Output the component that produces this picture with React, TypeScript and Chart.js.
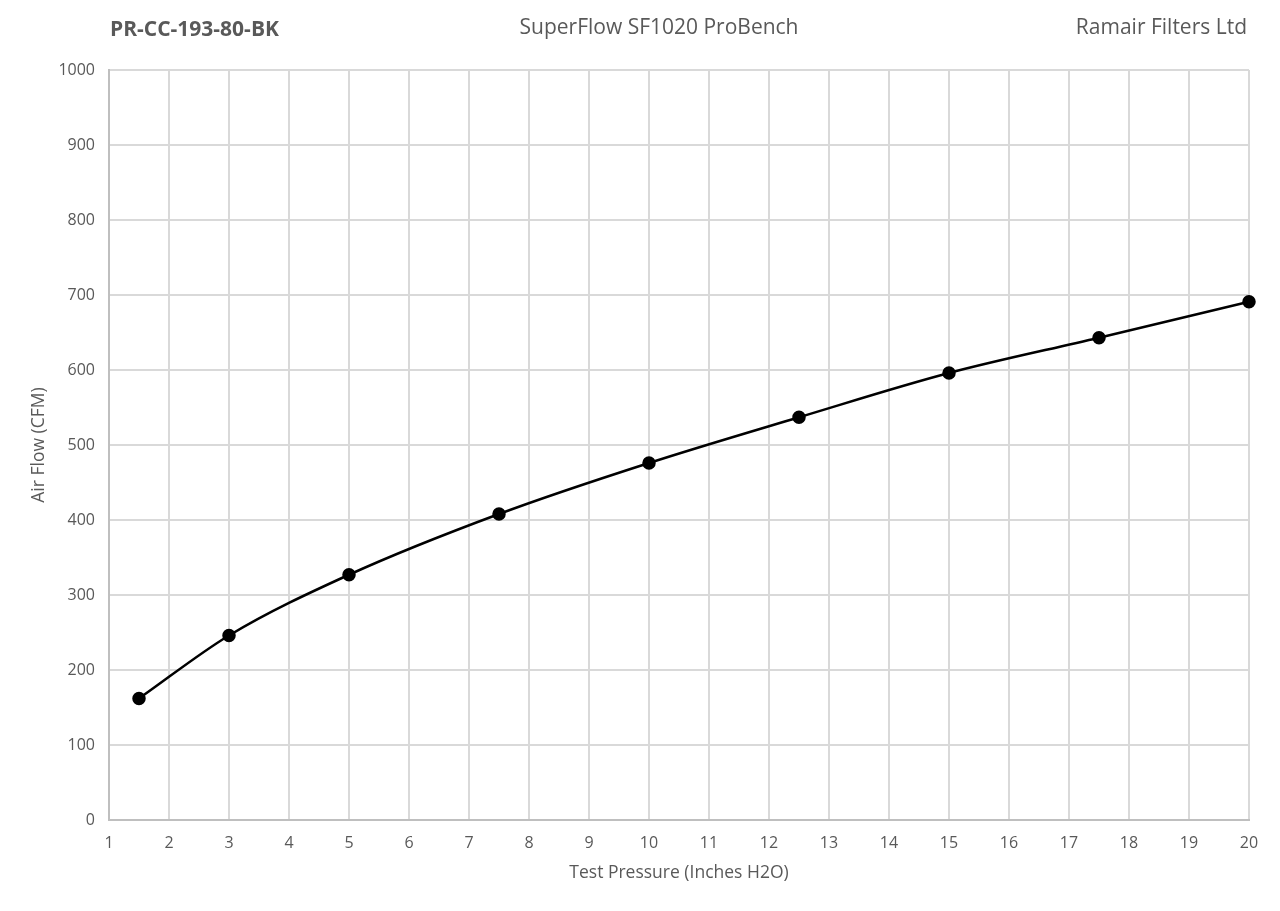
import React, { useEffect, useRef } from "react";
import { Chart, registerables } from "chart.js";

Chart.register(...registerables);

const pressures = [1.5, 3, 5, 7.5, 10, 12.5, 15, 17.5, 20];
const airFlow = [162, 246, 327, 408, 476, 537, 596, 643, 691];
const titleLeft = "PR-CC-193-80-BK";
const titleCenter = "SuperFlow SF1020 ProBench";
const titleRight = "Ramair Filters Ltd";
const xTitle = "Test Pressure (Inches H2O)";
const yTitle = "Air Flow (CFM)";

const FONT = "'Open Sans', 'Noto Sans', sans-serif";
const GREY = "#595959";

const headerPlugin = {
  id: "header",
  afterDraw(chart: any) {
    const ctx = chart.ctx;
    ctx.save();
    ctx.fillStyle = GREY;
    ctx.textBaseline = "middle";
    ctx.font = `bold 21px ${FONT}`;
    ctx.textAlign = "left";
    ctx.fillText(titleLeft, 110, 30);
    ctx.font = `21px ${FONT}`;
    ctx.textAlign = "center";
    ctx.fillText(titleCenter, 659, 28);
    ctx.textAlign = "right";
    ctx.fillText(titleRight, 1247, 28);
    ctx.restore();
  },
};

export default function App() {
  const ref = useRef<HTMLCanvasElement>(null);
  useEffect(() => {
    if (!ref.current) return;
    const chart = new Chart(ref.current, {
      type: "line",
      data: {
        datasets: [
          {
            data: pressures.map((x, i) => ({ x, y: airFlow[i] })),
            borderColor: "#000000",
            backgroundColor: "#000000",
            borderWidth: 2.5,
            pointRadius: 5.5,
            pointHoverRadius: 5.5,
            tension: 0.4,
            cubicInterpolationMode: "monotone",
            fill: false,
            clip: false,
          },
        ],
      },
      options: {
        animation: false,
        responsive: false,
        maintainAspectRatio: false,
        layout: { padding: { top: 70, right: 31, left: 0, bottom: 0 } },
        plugins: {
          legend: { display: false },
          tooltip: { enabled: false },
        },
        scales: {
          x: {
            type: "linear",
            min: 1,
            max: 20,
            afterFit: (s: any) => {
              s.height = 91;
            },
            ticks: {
              stepSize: 1,
              color: GREY,
              font: { family: FONT, size: 16 },
              padding: 14,
              callback: (v: any) => String(v),
            },
            grid: { color: "#d9d9d9", lineWidth: 2, drawTicks: false },
            border: { color: "#bfbfbf", width: 2 },
            title: {
              display: true,
              text: xTitle,
              color: GREY,
              font: { family: FONT, size: 17.5 },
              padding: { top: 0, bottom: 27 },
            },
          },
          y: {
            min: 0,
            max: 1000,
            afterFit: (s: any) => {
              s.width = 109;
            },
            ticks: {
              stepSize: 100,
              color: GREY,
              font: { family: FONT, size: 16 },
              padding: 14,
              callback: (v: any) => String(v),
            },
            grid: { color: "#d9d9d9", lineWidth: 2, drawTicks: false },
            border: { color: "#bfbfbf", width: 2 },
            title: {
              display: true,
              text: yTitle,
              color: GREY,
              font: { family: FONT, size: 17.5 },
              padding: { top: 29, bottom: 0 },
            },
          },
        },
      },
      plugins: [headerPlugin],
    } as any);
    return () => chart.destroy();
  }, []);
  return (
    <div style={{ position: "fixed", left: 0, top: 0, width: 1280, height: 911, background: "#fff" }}>
      <canvas ref={ref} width={1280} height={911} style={{ width: 1280, height: 911 }} />
    </div>
  );
}
